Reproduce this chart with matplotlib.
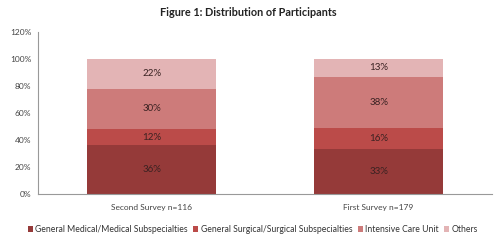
import numpy as np
import matplotlib.pyplot as plt

categories = ["Second Survey n=116", "First Survey n=179"]
series = ["General Medical/Medical Subspecialties",
          "General Surgical/Surgical Subspecialties",
          "Intensive Care Unit", "Others"]
medical = [36, 33]
surgical = [12, 16]
icu = [30, 38]
others = [22, 13]
values = [medical, surgical, icu, others]
colors = ["#953a39", "#bb4b49", "#cd7b7a", "#e3b4b5"]
yticks = [0, 20, 40, 60, 80, 100, 120]

plt.rcParams['font.family'] = ['Lato', 'DejaVu Sans']

fig = plt.figure(figsize=(4.96, 2.44), dpi=100)
ax = fig.add_axes([0.077, 0.205, 0.915, 0.664])

x = np.arange(len(categories))
bottom = np.zeros(len(categories))
for name, vals, c in zip(series, values, colors):
    ax.bar(x, vals, 0.57, bottom=bottom, color=c, label=name)
    for xi, b, v in zip(x, bottom, vals):
        ax.text(xi, b + v / 2, f"{v}%", ha="center", va="center",
                fontsize=7, color="#3a2222")
    bottom += np.array(vals)

ax.set_xlim(-0.5, 1.5)
ax.set_ylim(0, 120)
ax.set_yticks(yticks)
ax.set_yticklabels([f"{t}%" for t in yticks])
ax.set_xticks(x)
ax.set_xticklabels(categories)
ax.tick_params(length=0, labelsize=6, colors="#444444", pad=5)
ax.tick_params(axis="x", pad=7)
for s in ["top", "right"]:
    ax.spines[s].set_visible(False)
for s in ["left", "bottom"]:
    ax.spines[s].set_color("#999999")
    ax.spines[s].set_linewidth(0.8)

fig.suptitle("Figure 1: Distribution of Participants", y=0.97,
             fontsize=7.8, fontweight="bold", color="#222222")
fig.legend(loc="lower center", bbox_to_anchor=(0.51, 0.01), ncol=4,
           fontsize=6.2, frameon=False, handlelength=0.6, handleheight=0.6,
           handletextpad=0.3, columnspacing=0.6, labelcolor="#333333")

fig.savefig("out.png", dpi=100)
